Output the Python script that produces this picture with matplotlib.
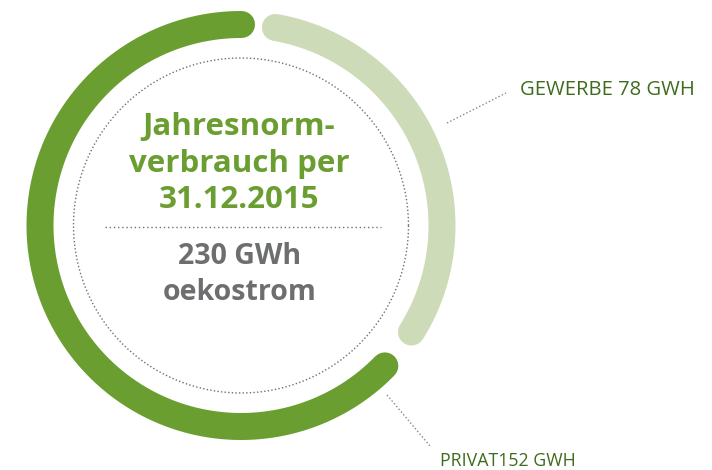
import numpy as np
import matplotlib.pyplot as plt

# values of the ring
segments = ['GEWERBE', 'PRIVAT']
values = [78, 152]
seg_labels = ['GEWERBE 78 GWH', 'PRIVAT152 GWH']
seg_colors = ['#cddbb8', '#6b9e30']

title_lines = ['Jahresnorm-', 'verbrauch per', '31.12.2015']
total_lines = ['230 GWh', 'oekostrom']

W, H = 712, 470
fig = plt.figure(figsize=(W / 100, H / 100), dpi=100)
ax = fig.add_axes([0, 0, 1, 1])
ax.set_xlim(0, W)
ax.set_ylim(H, 0)
ax.axis('off')

cx, cy = 241, 225.5
r_mid = 201
ring_px = 27
lw = ring_px * 72 / 100
cap_deg = np.degrees((ring_px / 2) / r_mid)

def pt(theta, r):
    t = np.radians(theta)
    return cx + r * np.cos(t), cy - r * np.sin(t)

# visible spans (tip to tip) proportional to values, going clockwise from top
gap_top, gap_bot = 2.0, 4.6
visible = 360 - gap_top - gap_bot
start = 84.0
for val, col in zip(values, seg_colors):
    span = visible * val / sum(values)
    a0 = start - cap_deg
    a1 = start - span + cap_deg
    th = np.linspace(a0, a1, 400)
    x, y = pt(th, r_mid)
    ax.plot(x, y, color=col, lw=lw, solid_capstyle='round', zorder=2)
    start = start - span - gap_bot

# inner dotted circle
th = np.linspace(0, 360, 800)
x, y = pt(th, 167.5)
ax.plot(x, y, color='#6f6f6f', lw=1.0, linestyle=(0, (1, 1.6)), zorder=1)
ax.plot([105, 381], [227, 227], color='#6f6f6f', lw=1.0, linestyle=(0, (1, 2.0)))

# leader lines
ax.plot([447, 506], [123, 93], color='#888888', lw=1.0, linestyle=(0, (1, 1.6)))
ax.plot([387, 430], [395, 446], color='#888888', lw=1.0, linestyle=(0, (1, 1.6)))

ax.text(520, 95, seg_labels[0], color='#3f6b1f', fontsize=14.6,
        family='Open Sans', ha='left', va='baseline')
ax.text(440, 466, seg_labels[1], color='#3f6b1f', fontsize=12.8,
        family='Open Sans', ha='left', va='baseline')

for txt, yb in zip(title_lines, [135, 172, 208]):
    ax.text(239, yb, txt, color='#6b9e30', fontsize=22.5, fontweight='bold',
            family='Open Sans', ha='center', va='baseline')
for txt, yb in zip(total_lines, [264, 300]):
    ax.text(240, yb, txt, color='#6d6e70', fontsize=20.5, fontweight='bold',
            family='Open Sans', ha='center', va='baseline')

fig.savefig('out.png', dpi=100)
